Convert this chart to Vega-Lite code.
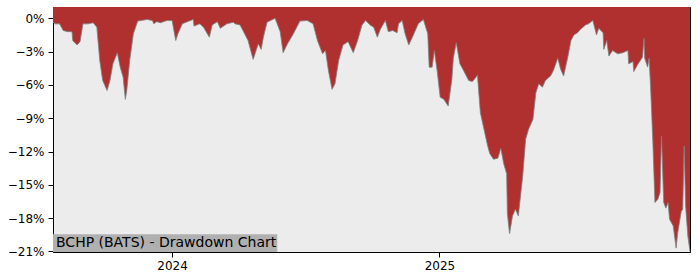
{
  "$schema": "https://vega.github.io/schema/vega-lite/v6.json",
  "width": 637,
  "height": 245,
  "autosize": "none",
  "padding": {"left": 53, "top": 7, "right": 10, "bottom": 28},
  "background": "white",
  "config": {
    "view": {"fill": "#ececec", "stroke": "#000000", "strokeWidth": 1},
    "font": "DejaVu Sans",
    "axis": {"labelFont": "DejaVu Sans", "labelFontSize": 12, "labelColor": "#000000", "tickColor": "#000000", "domainColor": "#000000", "tickSize": 5, "grid": false, "title": null, "zindex": 1, "labelOverlap": false, "labelFlush": false, "labelBound": false}
  },
  "data": {"values": [
    {"date": "2023-07-22", "drawdown": -0.0035},
    {"date": "2023-07-25", "drawdown": -0.005},
    {"date": "2023-07-31", "drawdown": -0.005},
    {"date": "2023-08-05", "drawdown": -0.011},
    {"date": "2023-08-11", "drawdown": -0.012},
    {"date": "2023-08-17", "drawdown": -0.012},
    {"date": "2023-08-18", "drawdown": -0.020},
    {"date": "2023-08-24", "drawdown": -0.024},
    {"date": "2023-08-28", "drawdown": -0.021},
    {"date": "2023-09-01", "drawdown": -0.005},
    {"date": "2023-09-08", "drawdown": -0.005},
    {"date": "2023-09-15", "drawdown": -0.004},
    {"date": "2023-09-20", "drawdown": -0.008},
    {"date": "2023-09-24", "drawdown": -0.038},
    {"date": "2023-09-28", "drawdown": -0.056},
    {"date": "2023-10-04", "drawdown": -0.065},
    {"date": "2023-10-08", "drawdown": -0.056},
    {"date": "2023-10-12", "drawdown": -0.041},
    {"date": "2023-10-18", "drawdown": -0.031},
    {"date": "2023-10-22", "drawdown": -0.044},
    {"date": "2023-10-26", "drawdown": -0.053},
    {"date": "2023-10-29", "drawdown": -0.073},
    {"date": "2023-10-31", "drawdown": -0.065},
    {"date": "2023-11-04", "drawdown": -0.038},
    {"date": "2023-11-09", "drawdown": -0.014},
    {"date": "2023-11-15", "drawdown": -0.0025},
    {"date": "2023-11-28", "drawdown": -0.001},
    {"date": "2023-12-05", "drawdown": -0.002},
    {"date": "2023-12-07", "drawdown": -0.005},
    {"date": "2023-12-11", "drawdown": -0.003},
    {"date": "2023-12-16", "drawdown": -0.004},
    {"date": "2023-12-25", "drawdown": -0.002},
    {"date": "2024-01-01", "drawdown": -0.002},
    {"date": "2024-01-06", "drawdown": -0.020},
    {"date": "2024-01-09", "drawdown": -0.014},
    {"date": "2024-01-15", "drawdown": -0.005},
    {"date": "2024-01-22", "drawdown": -0.003},
    {"date": "2024-01-30", "drawdown": -0.001},
    {"date": "2024-01-31", "drawdown": -0.007},
    {"date": "2024-02-08", "drawdown": -0.005},
    {"date": "2024-02-13", "drawdown": -0.008},
    {"date": "2024-02-21", "drawdown": -0.017},
    {"date": "2024-02-25", "drawdown": -0.006},
    {"date": "2024-03-03", "drawdown": -0.003},
    {"date": "2024-03-07", "drawdown": -0.009},
    {"date": "2024-03-16", "drawdown": -0.005},
    {"date": "2024-03-25", "drawdown": -0.0035},
    {"date": "2024-03-27", "drawdown": -0.005},
    {"date": "2024-04-03", "drawdown": -0.006},
    {"date": "2024-04-07", "drawdown": -0.011},
    {"date": "2024-04-14", "drawdown": -0.020},
    {"date": "2024-04-21", "drawdown": -0.037},
    {"date": "2024-04-24", "drawdown": -0.031},
    {"date": "2024-04-28", "drawdown": -0.023},
    {"date": "2024-05-02", "drawdown": -0.028},
    {"date": "2024-05-05", "drawdown": -0.017},
    {"date": "2024-05-10", "drawdown": -0.0035},
    {"date": "2024-05-21", "drawdown": 0.0},
    {"date": "2024-05-28", "drawdown": -0.012},
    {"date": "2024-06-01", "drawdown": -0.031},
    {"date": "2024-06-07", "drawdown": -0.023},
    {"date": "2024-06-15", "drawdown": -0.014},
    {"date": "2024-06-24", "drawdown": -0.0025},
    {"date": "2024-07-04", "drawdown": -0.002},
    {"date": "2024-07-12", "drawdown": -0.005},
    {"date": "2024-07-18", "drawdown": -0.020},
    {"date": "2024-07-25", "drawdown": -0.032},
    {"date": "2024-07-29", "drawdown": -0.029},
    {"date": "2024-08-02", "drawdown": -0.047},
    {"date": "2024-08-07", "drawdown": -0.064},
    {"date": "2024-08-11", "drawdown": -0.059},
    {"date": "2024-08-16", "drawdown": -0.038},
    {"date": "2024-08-22", "drawdown": -0.024},
    {"date": "2024-08-29", "drawdown": -0.021},
    {"date": "2024-09-05", "drawdown": -0.031},
    {"date": "2024-09-11", "drawdown": -0.020},
    {"date": "2024-09-17", "drawdown": -0.006},
    {"date": "2024-09-22", "drawdown": -0.002},
    {"date": "2024-09-28", "drawdown": -0.006},
    {"date": "2024-10-03", "drawdown": -0.008},
    {"date": "2024-10-08", "drawdown": -0.017},
    {"date": "2024-10-12", "drawdown": -0.010},
    {"date": "2024-10-19", "drawdown": -0.002},
    {"date": "2024-10-23", "drawdown": -0.012},
    {"date": "2024-10-29", "drawdown": -0.011},
    {"date": "2024-11-04", "drawdown": -0.013},
    {"date": "2024-11-06", "drawdown": -0.005},
    {"date": "2024-11-11", "drawdown": -0.002},
    {"date": "2024-11-15", "drawdown": -0.014},
    {"date": "2024-11-20", "drawdown": -0.024},
    {"date": "2024-11-25", "drawdown": -0.017},
    {"date": "2024-12-03", "drawdown": -0.005},
    {"date": "2024-12-10", "drawdown": -0.001},
    {"date": "2024-12-16", "drawdown": -0.014},
    {"date": "2024-12-18", "drawdown": -0.044},
    {"date": "2024-12-22", "drawdown": -0.044},
    {"date": "2024-12-25", "drawdown": -0.029},
    {"date": "2024-12-29", "drawdown": -0.048},
    {"date": "2025-01-02", "drawdown": -0.071},
    {"date": "2025-01-07", "drawdown": -0.073},
    {"date": "2025-01-13", "drawdown": -0.079},
    {"date": "2025-01-18", "drawdown": -0.055},
    {"date": "2025-01-20", "drawdown": -0.036},
    {"date": "2025-01-24", "drawdown": -0.022},
    {"date": "2025-01-29", "drawdown": -0.041},
    {"date": "2025-02-03", "drawdown": -0.047},
    {"date": "2025-02-10", "drawdown": -0.056},
    {"date": "2025-02-15", "drawdown": -0.057},
    {"date": "2025-02-19", "drawdown": -0.054},
    {"date": "2025-02-22", "drawdown": -0.051},
    {"date": "2025-02-26", "drawdown": -0.085},
    {"date": "2025-03-02", "drawdown": -0.097},
    {"date": "2025-03-08", "drawdown": -0.115},
    {"date": "2025-03-11", "drawdown": -0.122},
    {"date": "2025-03-16", "drawdown": -0.127},
    {"date": "2025-03-22", "drawdown": -0.126},
    {"date": "2025-03-26", "drawdown": -0.117},
    {"date": "2025-03-30", "drawdown": -0.131},
    {"date": "2025-04-03", "drawdown": -0.140},
    {"date": "2025-04-04", "drawdown": -0.176},
    {"date": "2025-04-07", "drawdown": -0.194},
    {"date": "2025-04-11", "drawdown": -0.178},
    {"date": "2025-04-15", "drawdown": -0.172},
    {"date": "2025-04-19", "drawdown": -0.178},
    {"date": "2025-04-25", "drawdown": -0.142},
    {"date": "2025-04-29", "drawdown": -0.109},
    {"date": "2025-05-03", "drawdown": -0.100},
    {"date": "2025-05-09", "drawdown": -0.091},
    {"date": "2025-05-13", "drawdown": -0.067},
    {"date": "2025-05-17", "drawdown": -0.059},
    {"date": "2025-05-22", "drawdown": -0.062},
    {"date": "2025-05-26", "drawdown": -0.056},
    {"date": "2025-06-02", "drawdown": -0.052},
    {"date": "2025-06-06", "drawdown": -0.047},
    {"date": "2025-06-12", "drawdown": -0.036},
    {"date": "2025-06-16", "drawdown": -0.046},
    {"date": "2025-06-20", "drawdown": -0.052},
    {"date": "2025-06-26", "drawdown": -0.034},
    {"date": "2025-06-30", "drawdown": -0.020},
    {"date": "2025-07-04", "drawdown": -0.015},
    {"date": "2025-07-09", "drawdown": -0.013},
    {"date": "2025-07-13", "drawdown": -0.010},
    {"date": "2025-07-20", "drawdown": -0.006},
    {"date": "2025-07-24", "drawdown": -0.005},
    {"date": "2025-07-30", "drawdown": -0.002},
    {"date": "2025-08-04", "drawdown": -0.015},
    {"date": "2025-08-07", "drawdown": -0.009},
    {"date": "2025-08-13", "drawdown": -0.013},
    {"date": "2025-08-14", "drawdown": -0.028},
    {"date": "2025-08-18", "drawdown": -0.020},
    {"date": "2025-08-21", "drawdown": -0.034},
    {"date": "2025-08-26", "drawdown": -0.029},
    {"date": "2025-09-02", "drawdown": -0.032},
    {"date": "2025-09-09", "drawdown": -0.031},
    {"date": "2025-09-16", "drawdown": -0.029},
    {"date": "2025-09-17", "drawdown": -0.041},
    {"date": "2025-09-23", "drawdown": -0.039},
    {"date": "2025-09-24", "drawdown": -0.048},
    {"date": "2025-09-30", "drawdown": -0.041},
    {"date": "2025-10-06", "drawdown": -0.035},
    {"date": "2025-10-08", "drawdown": -0.018},
    {"date": "2025-10-09", "drawdown": -0.036},
    {"date": "2025-10-13", "drawdown": -0.044},
    {"date": "2025-10-15", "drawdown": -0.036},
    {"date": "2025-10-17", "drawdown": -0.061},
    {"date": "2025-10-20", "drawdown": -0.109},
    {"date": "2025-10-23", "drawdown": -0.166},
    {"date": "2025-10-27", "drawdown": -0.163},
    {"date": "2025-10-30", "drawdown": -0.157},
    {"date": "2025-11-01", "drawdown": -0.106},
    {"date": "2025-11-04", "drawdown": -0.166},
    {"date": "2025-11-07", "drawdown": -0.171},
    {"date": "2025-11-10", "drawdown": -0.166},
    {"date": "2025-11-12", "drawdown": -0.181},
    {"date": "2025-11-17", "drawdown": -0.187},
    {"date": "2025-11-21", "drawdown": -0.207},
    {"date": "2025-11-23", "drawdown": -0.194},
    {"date": "2025-11-28", "drawdown": -0.174},
    {"date": "2025-11-30", "drawdown": -0.172},
    {"date": "2025-12-02", "drawdown": -0.115},
    {"date": "2025-12-04", "drawdown": -0.169},
    {"date": "2025-12-07", "drawdown": -0.196},
    {"date": "2025-12-10", "drawdown": -0.210}
  ]},
  "layer": [
    {
      "mark": {"type": "area", "color": "#b03030", "interpolate": "linear"},
      "encoding": {
        "x": {"field": "date", "type": "temporal",
          "scale": {"domain": [{"year": 2023, "month": 7, "date": 22}, {"year": 2025, "month": 12, "date": 10}], "nice": false},
          "axis": {"values": [{"year": 2024, "month": 1, "date": 1}, {"year": 2025, "month": 1, "date": 1}], "format": "%Y", "labelPadding": 3, "tickCount": 10}},
        "y": {"field": "drawdown", "type": "quantitative",
          "scale": {"domain": [-0.2105, 0.0102], "nice": false, "zero": false},
          "axis": {"values": [0, -0.03, -0.06, -0.09, -0.12, -0.15, -0.18, -0.21], "format": ".0%", "labelPadding": 4, "tickCount": 12}},
        "y2": {"datum": 0.0102}
      }
    },
    {
      "mark": {"type": "line", "color": "#808080", "strokeWidth": 0.8, "interpolate": "linear"},
      "encoding": {
        "x": {"field": "date", "type": "temporal"},
        "y": {"field": "drawdown", "type": "quantitative"}
      }
    },
    {
      "data": {"values": [{}]},
      "mark": {"type": "rect", "color": "#b0b0b0"},
      "encoding": {
        "x": {"datum": {"year": 2023, "month": 7, "date": 22}, "type": "temporal"},
        "x2": {"datum": {"year": 2024, "month": 5, "date": 24}},
        "y": {"datum": -0.2105, "type": "quantitative"},
        "y2": {"datum": -0.1946}
      }
    },
    {
      "data": {"values": [{"label": "BCHP (BATS) - Drawdown Chart"}]},
      "mark": {"type": "text", "align": "left", "baseline": "middle", "dx": 3, "fontSize": 14, "font": "DejaVu Sans", "color": "#000000"},
      "encoding": {
        "x": {"datum": {"year": 2023, "month": 7, "date": 22}, "type": "temporal"},
        "y": {"datum": -0.2025, "type": "quantitative"},
        "text": {"field": "label"}
      }
    }
  ]
}
